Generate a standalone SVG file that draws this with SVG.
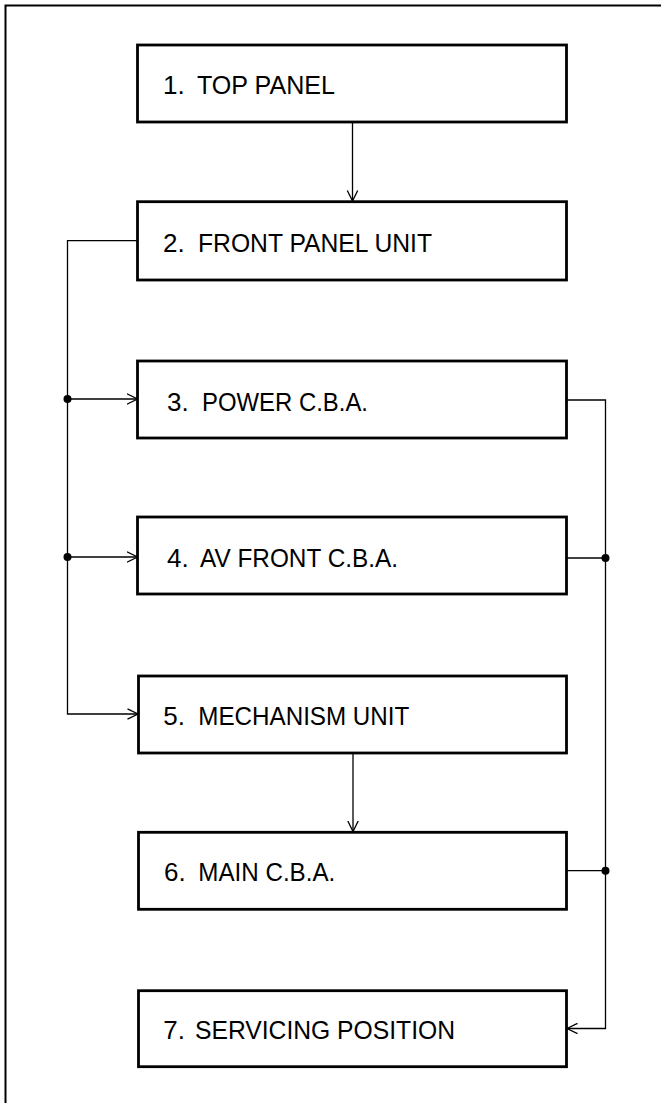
<svg xmlns="http://www.w3.org/2000/svg" width="661" height="1103" viewBox="0 0 661 1103">
<defs>
<style>
.box{fill:#fff;stroke:#000;stroke-width:2.8}
.lbl{font-family:"Liberation Sans",Arial,Helvetica,sans-serif;font-size:26px;fill:#000}
.con{fill:none;stroke:#000;stroke-width:1.3}
.frame{fill:none;stroke:#000;stroke-width:2}
.dot{fill:#000}
</style>
<marker id="arr" markerUnits="userSpaceOnUse" markerWidth="14" markerHeight="14" refX="11" refY="6" orient="auto">
<path d="M0.5,0.8 L11,6 L0.5,11.2" fill="none" stroke="#000" stroke-width="1.3"/>
</marker>
</defs>
<rect width="661" height="1103" fill="#fff"/>
<path class="frame" d="M5.5,1103 L5.5,5.5 L661,5.5"/>
<g id="connectors">
<path class="con" d="M352.5,122 L352.5,201" marker-end="url(#arr)"/>
<path class="con" d="M137.5,240.7 L67.5,240.7 L67.5,714 L138,714" marker-end="url(#arr)"/>
<path class="con" d="M67.5,399 L137.5,399" marker-end="url(#arr)"/>
<path class="con" d="M67.5,557 L137.5,557" marker-end="url(#arr)"/>
<circle class="dot" cx="67.5" cy="399" r="4"/>
<circle class="dot" cx="67.5" cy="557" r="4"/>
<path class="con" d="M353,753 L353,831.5" marker-end="url(#arr)"/>
<path class="con" d="M566.5,400 L605.5,400 L605.5,1028.5 L567,1028.5" marker-end="url(#arr)"/>
<path class="con" d="M566.5,558 L605.5,558"/>
<path class="con" d="M566.5,870.7 L605.5,870.7"/>
<circle class="dot" cx="605.5" cy="558" r="4"/>
<circle class="dot" cx="605.5" cy="870.7" r="4"/>
</g>
<g id="node1">
<rect class="box" x="137.5" y="45" width="429" height="77"/>
<text class="lbl" y="94.3"><tspan x="163">1.</tspan><tspan x="197" textLength="138" lengthAdjust="spacingAndGlyphs">TOP PANEL</tspan></text>
</g>
<g id="node2">
<rect class="box" x="137.5" y="201.7" width="429" height="78.3"/>
<text class="lbl" y="251.5"><tspan x="163">2.</tspan><tspan x="198" textLength="234" lengthAdjust="spacingAndGlyphs">FRONT PANEL UNIT</tspan></text>
</g>
<g id="node3">
<rect class="box" x="137.5" y="361" width="429" height="77"/>
<text class="lbl" y="411"><tspan x="167">3.</tspan><tspan x="202" textLength="166" lengthAdjust="spacingAndGlyphs">POWER C.B.A.</tspan></text>
</g>
<g id="node4">
<rect class="box" x="137.5" y="517" width="429" height="77"/>
<text class="lbl" y="566.5"><tspan x="167">4.</tspan><tspan x="200" textLength="198" lengthAdjust="spacingAndGlyphs">AV FRONT C.B.A.</tspan></text>
</g>
<g id="node5">
<rect class="box" x="138.5" y="676" width="428" height="77"/>
<text class="lbl" y="725"><tspan x="163.3">5.</tspan><tspan x="198.3" textLength="211" lengthAdjust="spacingAndGlyphs">MECHANISM UNIT</tspan></text>
</g>
<g id="node6">
<rect class="box" x="138.5" y="832.3" width="428" height="77"/>
<text class="lbl" y="880.5"><tspan x="164">6.</tspan><tspan x="198.3" textLength="137" lengthAdjust="spacingAndGlyphs">MAIN C.B.A.</tspan></text>
</g>
<g id="node7">
<rect class="box" x="138.5" y="990.7" width="428" height="76"/>
<text class="lbl" y="1038.5"><tspan x="163.3">7.</tspan><tspan x="195" textLength="260" lengthAdjust="spacingAndGlyphs">SERVICING POSITION</tspan></text>
</g>
</svg>
